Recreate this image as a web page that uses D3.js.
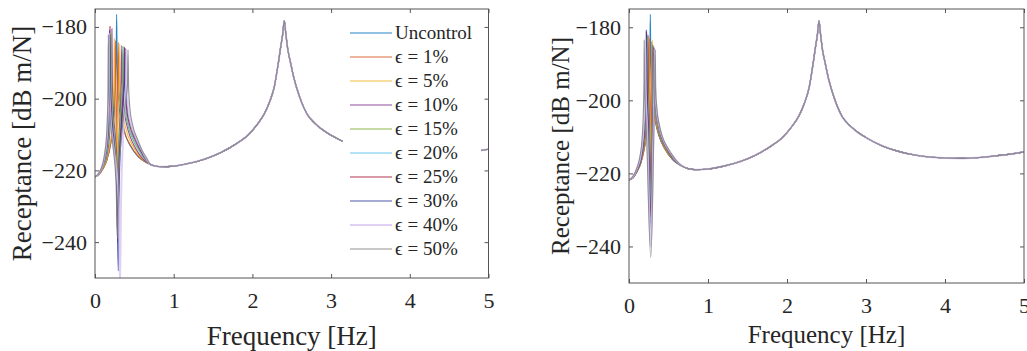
<!DOCTYPE html>
<html>
<head>
<meta charset="utf-8">
<script src="https://cdn.jsdelivr.net/npm/d3@7"></script>
<style>
  body { margin: 0; background: #fff; }
  svg text { font-family: 'Liberation Serif', 'Times New Roman', 'DejaVu Serif', serif; fill: #262626; }
</style>
</head>
<body>
<div id="chart"></div>
<script>
const WIDTH = 1027;
const HEIGHT = 351;

// axis ticks
const xTicks = [0, 1, 2, 3, 4, 5];
const yTicks = [-240, -220, -200, -180];
const xDomain = [0, 5];
const yDomain = [-250, -175];

// legend
const seriesNames = ['Uncontrol', 'ϵ = 1%', 'ϵ = 5%', 'ϵ = 10%', 'ϵ = 15%', 'ϵ = 20%', 'ϵ = 25%', 'ϵ = 30%', 'ϵ = 40%', 'ϵ = 50%'];
const seriesColors = ['#0072BD', '#D95319', '#EDB120', '#7E2F8E', '#77AC30', '#4DBEEE', '#A2142F', '#2E3C9E', '#D9C8F2', '#808080'];

// shared part of every curve above ~0.7 Hz  [freq Hz, dB]
const tail = [
  [0.7, -218.3], [0.75, -218.7], [0.85, -219], [1.0, -218.8], [1.2, -218], [1.4, -216.8], [1.6, -215],
  [1.8, -212.5], [1.95, -210], [2.05, -207.5], [2.15, -204.3], [2.22, -200.8], [2.28, -196.5], [2.33, -190],
  [2.36, -185.5], [2.385, -182], [2.405, -178.3], [2.425, -182], [2.45, -186.3], [2.48, -189.5], [2.53, -194.5],
  [2.6, -199.5], [2.7, -204.5], [2.8, -207], [2.9, -208.8], [3.0, -210.2], [3.2, -212.4], [3.4, -213.9],
  [3.6, -214.9], [3.8, -215.5], [4.0, -215.8], [4.2, -215.9], [4.4, -215.7], [4.6, -215.3], [4.8, -214.8], [5.0, -214.1]
];

// left panel, low frequency part
const lUnc = [[0,-221.8],[0.05,-221.2],[0.1,-219.6],[0.15,-217.2],[0.2,-212.5],[0.23,-207.5],[0.25,-201.5],[0.262,-195],[0.27,-187],[0.275,-176.5],[0.28,-187],[0.288,-195],[0.3,-200.5],[0.33,-205.5],[0.38,-209.8],[0.45,-213.2],[0.55,-216.2],[0.62,-217.4]];
const lE1 = [[0,-221.8],[0.05,-221.2],[0.1,-219.6],[0.15,-217.2],[0.2,-212.5],[0.23,-207.5],[0.245,-201],[0.254,-194],[0.26,-183.8],[0.266,-196],[0.272,-210],[0.275,-224],[0.279,-210],[0.287,-197],[0.295,-184.3],[0.302,-195],[0.315,-200.5],[0.34,-205],[0.38,-209.5],[0.45,-213],[0.55,-216.1],[0.62,-217.4]];
const lE5 = [[0,-221.8],[0.05,-221.1],[0.1,-219.4],[0.15,-216.8],[0.19,-212.5],[0.22,-206.5],[0.235,-199.5],[0.241,-193],[0.245,-183.2],[0.25,-194],[0.262,-205],[0.274,-215],[0.28,-228],[0.287,-214],[0.3,-203],[0.309,-194.5],[0.315,-184.8],[0.321,-195],[0.335,-201],[0.36,-205],[0.4,-209],[0.47,-212.8],[0.55,-215.6],[0.62,-217.2]];
const lE10 = [[0,-221.8],[0.05,-221],[0.1,-219],[0.15,-215.8],[0.18,-211.5],[0.198,-205],[0.209,-197],[0.215,-180.5],[0.221,-196],[0.235,-204],[0.26,-211],[0.28,-219],[0.29,-233],[0.298,-218],[0.315,-206],[0.332,-196],[0.34,-185.2],[0.347,-196],[0.365,-202.5],[0.4,-207],[0.45,-210.8],[0.52,-214],[0.6,-216.6],[0.65,-217.6]];
const lE15 = [[0,-221.8],[0.05,-221],[0.1,-218.9],[0.15,-215.4],[0.175,-211],[0.19,-205],[0.2,-196.5],[0.205,-182],[0.211,-196],[0.225,-204],[0.25,-211],[0.272,-218],[0.285,-230],[0.295,-217],[0.315,-208],[0.34,-198],[0.349,-195],[0.355,-185.5],[0.362,-196],[0.38,-202.5],[0.42,-207.5],[0.48,-211.3],[0.55,-214.2],[0.62,-216.6]];
const lE20 = [[0,-221.8],[0.05,-221],[0.1,-218.8],[0.145,-215.5],[0.17,-211],[0.186,-205],[0.195,-197],[0.2,-182.5],[0.206,-196],[0.22,-204],[0.25,-212],[0.278,-222],[0.29,-236],[0.3,-220],[0.325,-208],[0.35,-198],[0.359,-195],[0.365,-185.5],[0.372,-196],[0.39,-202.5],[0.43,-207.5],[0.49,-211.2],[0.56,-214.2],[0.63,-216.7]];
const lE25 = [[0,-221.8],[0.05,-220.9],[0.1,-218.6],[0.14,-215.2],[0.163,-211],[0.177,-205],[0.186,-196],[0.19,-179.9],[0.196,-195],[0.21,-203.5],[0.24,-211.5],[0.272,-221],[0.29,-240],[0.302,-221],[0.33,-208],[0.36,-198],[0.369,-195],[0.375,-185.6],[0.382,-196],[0.4,-202.5],[0.44,-207.3],[0.5,-211],[0.57,-214.2],[0.64,-216.8]];
const lE30 = [[0,-221.8],[0.05,-220.9],[0.1,-218.5],[0.135,-215.3],[0.158,-211],[0.172,-205],[0.181,-197],[0.185,-181],[0.191,-195.5],[0.205,-204],[0.235,-212],[0.275,-224],[0.296,-248],[0.308,-224],[0.335,-209],[0.368,-198.5],[0.378,-195.5],[0.385,-186],[0.392,-196],[0.41,-202.5],[0.45,-207.2],[0.51,-210.8],[0.58,-214.2],[0.65,-216.9]];
const lE40 = [[0,-221.8],[0.05,-220.8],[0.1,-218.2],[0.13,-215],[0.15,-211],[0.163,-205],[0.171,-197],[0.175,-182],[0.181,-196],[0.195,-204],[0.23,-212.5],[0.28,-222],[0.305,-232],[0.318,-252],[0.33,-230],[0.355,-212],[0.385,-199],[0.394,-196],[0.4,-186.3],[0.407,-196.5],[0.425,-203],[0.46,-207.3],[0.52,-210.8],[0.59,-214.2],[0.66,-217]];
const lE50 = [[0,-221.8],[0.05,-220.7],[0.1,-218],[0.125,-215],[0.145,-211],[0.158,-205],[0.166,-197],[0.17,-182.2],[0.176,-196],[0.19,-204],[0.225,-212.5],[0.268,-224],[0.284,-239],[0.298,-224],[0.34,-210],[0.395,-199.5],[0.413,-196],[0.42,-186.4],[0.427,-196.5],[0.445,-203],[0.48,-207.5],[0.54,-211.3],[0.6,-214.5],[0.66,-216.7]];

// right panel, low frequency part
const rUnc = [[0,-221.8],[0.05,-221.2],[0.1,-219.6],[0.15,-217.2],[0.2,-212.5],[0.23,-207.5],[0.245,-202],[0.258,-195],[0.265,-187],[0.27,-176.5],[0.275,-187],[0.283,-195],[0.296,-200.5],[0.33,-205.5],[0.38,-209.8],[0.45,-213.2],[0.55,-216.2],[0.62,-217.4]];
const rE1 = [[0,-221.8],[0.05,-221.2],[0.1,-219.6],[0.15,-217.2],[0.2,-212.5],[0.23,-207.5],[0.245,-201.5],[0.253,-194],[0.258,-183],[0.264,-196],[0.27,-208],[0.274,-218],[0.278,-207],[0.283,-196],[0.288,-184],[0.294,-195],[0.306,-200.5],[0.335,-205.5],[0.38,-209.6],[0.45,-213.1],[0.55,-216.1],[0.62,-217.4]];
const rE5 = [[0,-221.8],[0.05,-221.2],[0.1,-219.5],[0.15,-217],[0.2,-212],[0.225,-207],[0.24,-200.5],[0.246,-194],[0.25,-182.5],[0.256,-195],[0.266,-206],[0.275,-222],[0.283,-206],[0.29,-195],[0.295,-183.5],[0.301,-195],[0.315,-201],[0.34,-205.5],[0.385,-209.6],[0.45,-212.9],[0.55,-216],[0.62,-217.3]];
const rE10 = [[0,-221.8],[0.05,-221.2],[0.1,-219.4],[0.15,-216.8],[0.19,-212.5],[0.215,-207],[0.23,-200.5],[0.236,-194],[0.24,-182],[0.246,-195],[0.258,-206],[0.275,-226],[0.288,-206],[0.297,-195],[0.302,-184.8],[0.308,-195.5],[0.322,-201],[0.35,-205.8],[0.39,-209.6],[0.46,-213],[0.56,-216.2],[0.63,-217.5]];
const rE15 = [[0,-221.8],[0.05,-221.1],[0.1,-219.3],[0.15,-216.6],[0.185,-212.5],[0.208,-207],[0.222,-200.5],[0.228,-194],[0.232,-182.5],[0.238,-195],[0.252,-207],[0.275,-228],[0.292,-207],[0.302,-195.5],[0.307,-185],[0.313,-196],[0.327,-201.5],[0.355,-206],[0.395,-209.7],[0.46,-212.9],[0.56,-216.1],[0.63,-217.5]];
const rE20 = [[0,-221.8],[0.05,-221.1],[0.1,-219.2],[0.15,-216.4],[0.18,-212.5],[0.203,-207],[0.216,-200.5],[0.222,-194],[0.226,-182],[0.232,-195],[0.247,-207],[0.275,-230],[0.296,-207],[0.307,-196],[0.312,-185.3],[0.318,-196],[0.332,-201.5],[0.36,-206],[0.4,-209.7],[0.47,-213],[0.57,-216.2],[0.64,-217.6]];
const rE25 = [[0,-221.8],[0.05,-221.1],[0.1,-219.1],[0.15,-216.2],[0.178,-212.5],[0.2,-207],[0.212,-200.5],[0.218,-194],[0.222,-181.3],[0.228,-195],[0.244,-207],[0.275,-232],[0.3,-207],[0.311,-196],[0.316,-185.5],[0.322,-196],[0.336,-201.5],[0.365,-206],[0.405,-209.7],[0.47,-212.9],[0.57,-216.1],[0.64,-217.6]];
const rE30 = [[0,-221.8],[0.05,-221],[0.1,-219],[0.15,-216],[0.175,-212.5],[0.196,-207],[0.208,-200.5],[0.214,-194],[0.218,-180.8],[0.224,-195],[0.24,-207],[0.276,-235],[0.304,-207],[0.315,-196],[0.32,-185.8],[0.326,-196],[0.34,-201.5],[0.37,-206],[0.41,-209.7],[0.48,-213],[0.58,-216.2],[0.65,-217.7]];
const rE40 = [[0,-221.8],[0.05,-220.9],[0.1,-218.7],[0.145,-215.5],[0.168,-212],[0.186,-207],[0.197,-200.5],[0.202,-194],[0.205,-183],[0.211,-195.5],[0.23,-207.5],[0.276,-240],[0.31,-207.5],[0.321,-196],[0.326,-186],[0.332,-196.5],[0.347,-202],[0.375,-206.2],[0.415,-209.7],[0.48,-212.8],[0.58,-216],[0.65,-217.6]];
const rE50 = [[0,-221.8],[0.05,-220.8],[0.1,-218.5],[0.14,-215.2],[0.16,-212],[0.175,-207],[0.185,-200.5],[0.19,-194],[0.192,-183.5],[0.198,-196],[0.22,-208],[0.276,-243],[0.316,-208],[0.327,-196.5],[0.332,-186.2],[0.338,-197],[0.353,-202.3],[0.38,-206.3],[0.42,-209.8],[0.49,-213],[0.59,-216.2],[0.66,-217.8]];

const leftHeads = [lUnc, lE1, lE5, lE10, lE15, lE20, lE25, lE30, lE40, lE50];
const rightHeads = [rUnc, rE1, rE5, rE10, rE15, rE20, rE25, rE30, rE40, rE50];

const AXIS_COLOR = '#555555';
const TICK_LEN = 4;
const SERIF = "'Liberation Serif', 'Times New Roman', serif";

const svg = d3.select('#chart')
  .append('svg')
  .attr('width', WIDTH)
  .attr('height', HEIGHT)
  .style('display', 'block');

function drawPanel(id, box, heads, opts) {
  const x = d3.scaleLinear().domain(xDomain).range([box.left, box.right]);
  const y = d3.scaleLinear().domain(yDomain).range([box.bottom, box.top]);
  const g = svg.append('g');

  svg.append('clipPath').attr('id', id)
    .append('rect')
    .attr('x', box.left).attr('y', box.top)
    .attr('width', box.right - box.left).attr('height', box.bottom - box.top);

  // curves
  const line = d3.line()
    .curve(d3.curveMonotoneX)
    .x(d => x(d[0]))
    .y(d => y(d[1]));

  const curves = g.append('g').attr('clip-path', `url(#${id})`);
  heads.forEach((head, i) => {
    curves.append('path')
      .datum(head.concat(tail))
      .attr('fill', 'none')
      .attr('stroke', seriesColors[i])
      .attr('stroke-width', i === 8 ? 2 : 1.1)
      .attr('stroke-opacity', 0.85)
      .attr('d', line);
  });

  // axes with inward ticks on all four sides
  g.append('g')
    .attr('transform', `translate(0,${box.bottom})`)
    .call(d3.axisBottom(x).tickValues(xTicks).tickFormat(d3.format('d'))
      .tickSizeInner(-TICK_LEN).tickSizeOuter(0).tickPadding(14));
  g.append('g')
    .attr('transform', `translate(${box.left},0)`)
    .call(d3.axisLeft(y).tickValues(yTicks).tickFormat(d3.format('d'))
      .tickSizeInner(-TICK_LEN).tickSizeOuter(0).tickPadding(8));
  g.append('g')
    .attr('transform', `translate(0,${box.top})`)
    .call(d3.axisTop(x).tickValues(xTicks).tickSizeInner(-TICK_LEN).tickSizeOuter(0).tickFormat(''));
  g.append('g')
    .attr('transform', `translate(${box.right},0)`)
    .call(d3.axisRight(y).tickValues(yTicks).tickSizeInner(-TICK_LEN).tickSizeOuter(0).tickFormat(''));

  g.selectAll('.domain').remove();
  g.selectAll('.tick line').attr('stroke', AXIS_COLOR);
  g.selectAll('.tick text')
    .attr('fill', '#262626')
    .style('font-family', SERIF)
    .style('font-size', opts.tickFont + 'px');

  g.append('rect')
    .attr('x', box.left).attr('y', box.top)
    .attr('width', box.right - box.left).attr('height', box.bottom - box.top)
    .attr('fill', 'none')
    .attr('stroke', AXIS_COLOR)
    .attr('stroke-width', 1);

  // axis labels
  g.append('text')
    .attr('x', (box.left + box.right) / 2)
    .attr('y', opts.xLabelY)
    .attr('text-anchor', 'middle')
    .style('font-family', SERIF)
    .style('font-size', opts.labelFont + 'px')
    .text('Frequency [Hz]');

  g.append('text')
    .attr('transform', `translate(${opts.yLabelX},${(box.top + box.bottom) / 2}) rotate(-90)`)
    .attr('text-anchor', 'middle')
    .style('font-family', SERIF)
    .style('font-size', opts.labelFont + 'px')
    .text('Receptance [dB m/N]');

  return g;
}

const leftPanel = drawPanel('clipL', { left: 95, right: 488.5, top: 9, bottom: 278 }, leftHeads,
  { tickFont: 22, labelFont: 27, xLabelY: 345, yLabelX: 31 });
drawPanel('clipR', { left: 629, right: 1024, top: 9, bottom: 283 }, rightHeads,
  { tickFont: 22, labelFont: 25, xLabelY: 343, yLabelX: 569 });

// legend (left panel only)
const legend = leftPanel.append('g');
legend.append('rect')
  .attr('x', 343).attr('y', 17)
  .attr('width', 138).attr('height', 246)
  .attr('fill', '#fff');

seriesNames.forEach((name, i) => {
  const rowY = 33 + i * 24;
  legend.append('line')
    .attr('x1', 350).attr('x2', 392)
    .attr('y1', rowY).attr('y2', rowY)
    .attr('stroke', seriesColors[i])
    .attr('stroke-opacity', 0.85)
    .attr('stroke-width', i === 8 ? 2 : 1.1);
  legend.append('text')
    .attr('x', 395)
    .attr('y', rowY)
    .attr('dy', '0.34em')
    .style('font-family', SERIF)
    .style('font-size', '19px')
    .text(name);
});
</script>
</body>
</html>
